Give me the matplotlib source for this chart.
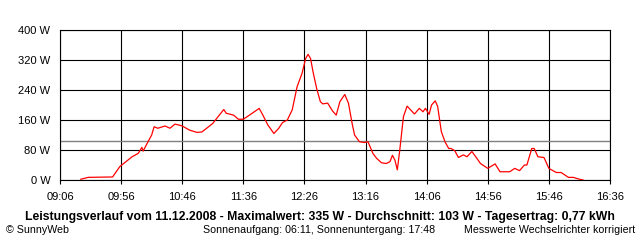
import matplotlib
matplotlib.use("Agg")
from matplotlib import pyplot as plt

plt.rcParams['font.family'] = ['Liberation Sans', 'DejaVu Sans']

# minutes since midnight / power in W
minutes = [563, 569, 587, 589, 595, 605, 610, 613, 614, 618, 621, 623, 626, 632,
           636, 640, 644, 646, 652, 658, 662, 666, 671, 680, 682, 688, 692, 696,
           701, 705, 709, 712, 716, 721, 725, 728, 732, 736, 740, 744, 747, 749,
           751, 753, 756, 759, 761, 765, 769, 772, 775, 779, 782, 785, 787, 791,
           795, 798, 802, 805, 809, 813, 816, 818, 820, 822, 824, 827, 830, 836,
           840, 843, 845, 848, 850, 853, 855, 858, 861, 864, 866, 869, 872, 876,
           879, 883, 887, 890, 896, 902, 906, 914, 918, 922, 926, 928, 932, 934,
           937, 942, 946, 952, 956, 962, 966, 971, 974]
power = [2, 7, 8, 8, 36, 62, 71, 87, 77, 102, 120, 142, 138, 144,
         138, 149, 146, 144, 133, 127, 128, 138, 151, 188, 178, 173, 162, 162,
         173, 182, 191, 173, 147, 124, 138, 153, 160, 187, 249, 284, 324, 335,
         324, 289, 244, 209, 203, 205, 184, 173, 209, 228, 205, 151, 120, 102,
         100, 102, 71, 58, 46, 44, 49, 66, 53, 27, 80, 169, 197, 176,
         191, 182, 191, 175, 200, 211, 196, 129, 102, 84, 84, 78, 60, 67,
         62, 76, 58, 44, 31, 43, 22, 22, 31, 25, 40, 40, 84, 84,
         62, 60, 31, 20, 20, 7, 7, 2, 0]

avg = 103
x_ticks = [546, 596, 646, 696, 746, 796, 846, 896, 946, 996]
x_labels = ["09:06", "09:56", "10:46", "11:36", "12:26", "13:16", "14:06", "14:56", "15:46", "16:36"]
y_ticks = [0, 80, 160, 240, 320, 400]
y_labels = ["0 W", "80 W", "160 W", "240 W", "320 W", "400 W"]

title = "Leistungsverlauf vom 11.12.2008 - Maximalwert: 335 W - Durchschnitt: 103 W - Tagesertrag: 0,77 kWh"

fig = plt.figure(figsize=(6.4, 2.4), dpi=100)
ax = fig.add_axes([60 / 640, 1 - 180 / 240, 550 / 640, 150 / 240])

ax.axhline(avg, color="#808080", lw=1.0, zorder=2)
ax.plot(minutes, power, color="red", lw=0.9, zorder=3)

ax.set_xlim(546, 996)
ax.set_ylim(0, 400)
ax.set_xticks(x_ticks)
ax.set_xticklabels(x_labels)
ax.set_yticks(y_ticks)
ax.set_yticklabels(y_labels)
ax.grid(True, color="black", lw=0.8, zorder=1)
ax.set_axisbelow(True)
ax.tick_params(axis="x", length=3, width=0.8, pad=6, labelsize=8)
ax.tick_params(axis="y", length=0, pad=7, labelsize=8)
for s in ax.spines.values():
    s.set_linewidth(0.8)

fig.text(0.5, 1 - 217 / 240, title, ha="center", va="center", fontsize=8.8, fontweight="bold")
fig.text(6 / 640, 1 - 230 / 240, "© SunnyWeb", ha="left", va="center", fontsize=7.7)
fig.text(203 / 640, 1 - 230 / 240, "Sonnenaufgang: 06:11, Sonnenuntergang: 17:48", ha="left", va="center", fontsize=7.7)
fig.text(635 / 640, 1 - 230 / 240, "Messwerte Wechselrichter korrigiert", ha="right", va="center", fontsize=7.7)

fig.savefig("out.png", dpi=100)
